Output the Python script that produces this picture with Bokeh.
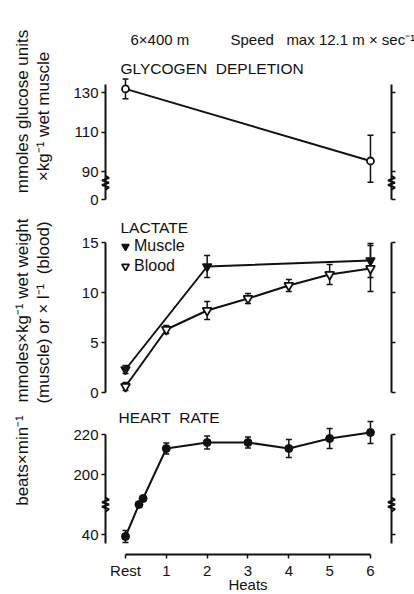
import numpy as np
from bokeh.plotting import figure
from bokeh.layouts import column
from bokeh.core.properties import value
from bokeh.models import (Range1d, Whisker, ColumnDataSource, TeeHead,
                          FixedTicker, LinearAxis, Legend, LegendItem)
from bokeh.embed import file_html
from bokeh.resources import INLINE

FONT = "Liberation Sans"
BLACK = "#111111"
NB = "\u00a0"

# ---------------- data ----------------
heat_ticks = [0, 1, 2, 3, 4, 5, 6]
heat_labels = ["Rest", "1", "2", "3", "4", "5", "6"]

# glycogen (mmoles glucose units / kg wet muscle)
gly_ticks = [0, 90, 110, 130]
gly_x = [0, 6]
gly_mean = [132, 95.5]
gly_sd = [5, 13]

# lactate
lac_ticks = [0, 5, 10, 15]
muscle_x = [0, 2, 6]
muscle_mean = [2.3, 12.6, 13.2]
muscle_sd = [0.4, 1.1, 1.7]
blood_x = [0, 1, 2, 3, 4, 5, 6]
blood_mean = [0.6, 6.3, 8.2, 9.4, 10.7, 11.8, 12.4]
blood_sd = [0.4, 0.4, 0.9, 0.5, 0.6, 1.0, 2.3]

# heart rate
hr_ticks = [40, 200, 220]
hr_x = [0, 0.33, 0.43, 1, 2, 3, 4, 5, 6]
hr_mean = [39, 120, 162, 213, 216, 216, 213, 218, 221]
hr_sd = [3, 20, 20, 2.8, 3.3, 2.8, 4.5, 5, 5.5]

# broken-axis knots: value -> drawn position
GLY_KNOTS = ([0, 85, 200], [0, 9, 124])
LAC_KNOTS = ([-10, 30], [-10, 30])
HR_KNOTS = ([0, 50, 190, 300], [-30, 20, 30, 140])


def brk(vals, knots):
    return [float(v) for v in np.interp(vals, knots[0], knots[1])]


X0, X1 = -0.49, 6.515
FL, FW = 105, 286          # frame left / width (px)
PXX = FW / (X1 - X0)       # px per x unit


def panel(height, top, bottom, y0, y1, xaxis=False):
    p = figure(width=414, height=height, x_range=Range1d(X0, X1),
               y_range=Range1d(y0, y1), min_border_left=FL,
               min_border_right=414 - FL - FW, min_border_top=top,
               min_border_bottom=bottom, output_backend="svg",
               toolbar_location=None,
               x_axis_location="below" if xaxis else None,
               y_axis_location=None)
    p.grid.visible = False
    p.outline_line_color = None
    p.background_fill_color = "white"
    p.border_fill_color = "white"
    return p


def style_axis(ax):
    ax.axis_line_width = 2
    ax.axis_line_color = BLACK
    ax.major_tick_line_width = 1.5
    ax.major_tick_line_color = BLACK
    ax.major_tick_out = 4
    ax.major_tick_in = 0
    ax.minor_tick_line_color = None
    ax.major_label_text_font = FONT
    ax.major_label_text_color = BLACK
    ax.major_label_standoff = 3
    ax.major_label_text_font_size = "15px"


def y_axes(p, ticks, knots, bounds):
    pos = [int(round(v)) for v in brk(ticks, knots)]
    for side, lab in (("left", True), ("right", False)):
        ax = LinearAxis(ticker=FixedTicker(ticks=pos), bounds=bounds)
        ax.major_label_overrides = {k: (str(t) if lab else "") for k, t in zip(pos, ticks)}
        style_axis(ax)
        p.add_layout(ax, side)


def txt(p, text, px, py, ft, pxy, size="15px", align="left", angle=0.0):
    # px, py: position in the figure's own canvas pixels
    xd = X0 + (px - FL) / PXX
    yd = p.y_range.end - (py - ft) / pxy
    r = p.text(x=[xd], y=[yd], text=[text], text_font=value(FONT),
               text_font_size=value(size), text_color=BLACK,
               text_align=align, text_baseline="middle", angle=angle)
    r.level = "overlay"


def zigzag(p, xdata, ycenter, pxy):
    dys = [7, 4.7, 2.3, 0, -2.3, -4.7, -7]
    dxs = [0, 3.5, -3.5, 3.5, -3.5, 3.5, 0]
    r = p.line([xdata + d / PXX for d in dxs],
               [ycenter + d / pxy for d in dys],
               line_width=2, color=BLACK)
    r.level = "overlay"


def errbars(p, x, mean, sd, knots, head=6):
    src = ColumnDataSource(dict(x=x, up=brk(np.add(mean, sd), knots),
                                lo=brk(np.subtract(mean, sd), knots)))
    w = Whisker(base="x", upper="up", lower="lo", source=src,
                line_width=1.5, line_color=BLACK,
                upper_head=TeeHead(size=head, line_width=1.5, line_color=BLACK),
                lower_head=TeeHead(size=head, line_width=1.5, line_color=BLACK))
    p.add_layout(w)


# ---------------- glycogen (canvas y 0..211) ----------------
G_TOP, G_PXY = 74, 1.975
p1 = panel(211, G_TOP, 12, 0, 125 / G_PXY)
y_axes(p1, gly_ticks, GLY_KNOTS, (0, 58.2))
errbars(p1, gly_x, gly_mean, gly_sd, GLY_KNOTS)
gy = brk(gly_mean, GLY_KNOTS)
p1.line(gly_x, gy, line_width=2, color=BLACK)
p1.scatter(gly_x, gy, marker="circle", size=7, fill_color="white",
           line_color=BLACK, line_width=1.8)
zigzag(p1, X0, 8.5, G_PXY)
zigzag(p1, X1, 8.5, G_PXY)
txt(p1, "6×400" + NB + "m", 130, 39, G_TOP, G_PXY)
txt(p1, "Speed" + NB * 3 + "max 12.1" + NB + "m" + NB + "×" + NB + "sec⁻¹", 230, 39, G_TOP, G_PXY)
txt(p1, "GLYCOGEN" + NB * 2 + "DEPLETION", 120, 68, G_TOP, G_PXY, size="15.5px")
txt(p1, "mmoles glucose units", 22, 111, G_TOP, G_PXY, size="17px", align="center", angle=np.pi / 2)
txt(p1, "×kg⁻¹ wet muscle", 43, 116, G_TOP, G_PXY, size="17px", align="center", angle=np.pi / 2)

# ---------------- lactate (canvas y 211..404) ----------------
OFF2 = 211
L_TOP, L_PXY = 215 - OFF2, 10
p2 = panel(404 - OFF2, L_TOP, 6, -0.6, 17.7)
y_axes(p2, lac_ticks, LAC_KNOTS, (0, 15))
errbars(p2, muscle_x, muscle_mean, muscle_sd, LAC_KNOTS)
errbars(p2, blood_x, blood_mean, blood_sd, LAC_KNOTS)
p2.line(muscle_x, muscle_mean, line_width=2, color=BLACK)
p2.line(blood_x, blood_mean, line_width=2, color=BLACK)
rm = p2.scatter(muscle_x, muscle_mean, marker="inverted_triangle", size=9,
                fill_color=BLACK, line_color=BLACK, line_width=1.5)
rb = p2.scatter(blood_x, blood_mean, marker="inverted_triangle", size=9,
                fill_color="white", line_color=BLACK, line_width=1.8)
leg = Legend(items=[LegendItem(label="Muscle", renderers=[rm]),
                    LegendItem(label="Blood", renderers=[rb])],
             location=(11, 123), padding=0, margin=0, spacing=2,
             glyph_width=18, glyph_height=18, label_height=18,
             label_standoff=0, border_line_color=None,
             background_fill_alpha=0, label_text_font=FONT,
             label_text_font_size="16px", label_text_color=BLACK)
p2.add_layout(leg)
txt(p2, "LACTATE", 120, 227 - OFF2, L_TOP, L_PXY, size="15.5px")
txt(p2, "mmoles×kg⁻¹ wet weight", 22, 310 - OFF2, L_TOP, L_PXY, size="17px", align="center", angle=np.pi / 2)
txt(p2, "(muscle) or × l⁻¹" + NB * 2 + "(blood)", 43, 312 - OFF2, L_TOP, L_PXY, size="17px", align="center", angle=np.pi / 2)

# ---------------- heart rate (canvas y 404..594) ----------------
OFF3 = 404
H_TOP, H_PXY = 415 - OFF3, 2
p3 = panel(594 - OFF3, H_TOP, 40, 0, 139 / H_PXY, xaxis=True)
y_axes(p3, hr_ticks, HR_KNOTS, (5.5, 60))
xa = p3.xaxis[0]
xa.ticker = FixedTicker(ticks=heat_ticks)
xa.major_label_overrides = {t: l for t, l in zip(heat_ticks, heat_labels)}
xa.bounds = (0, 6)
style_axis(xa)
errbars(p3, hr_x, hr_mean, hr_sd, HR_KNOTS)
hy = brk(hr_mean, HR_KNOTS)
p3.line(hr_x, hy, line_width=2, color=BLACK)
p3.scatter(hr_x, hy, marker="circle", size=8, fill_color=BLACK, line_color=BLACK)
zigzag(p3, X0, 25, H_PXY)
zigzag(p3, X1, 25, H_PXY)
txt(p3, "HEART" + NB * 2 + "RATE", 118, 417 - OFF3, H_TOP, H_PXY, size="15.5px")
txt(p3, "beats×min⁻¹", 22, 460 - OFF3, H_TOP, H_PXY, size="17px", align="center", angle=np.pi / 2)
txt(p3, "Heats", FL + (3 - X0) * PXX, 584 - OFF3, H_TOP, H_PXY, size="15px", align="center")

layout = column(p1, p2, p3, spacing=0)
open("out.html", "w").write(file_html(layout, INLINE))
